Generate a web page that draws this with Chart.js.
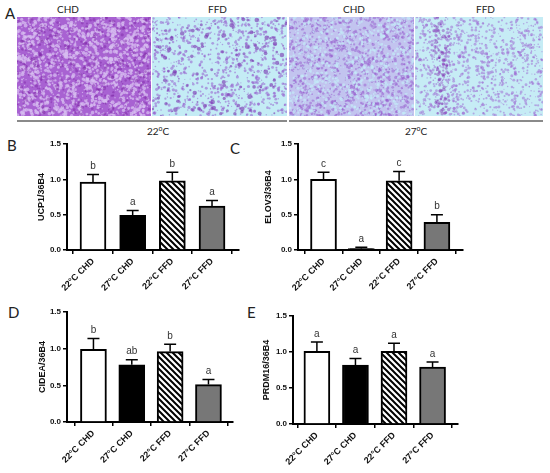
<!DOCTYPE html>
<html>
<head>
<meta charset="utf-8">
<script src="https://cdn.jsdelivr.net/npm/chart.js@4.4.0/dist/chart.umd.min.js"></script>
<style>
  body { margin: 0; background: #fff; }
  #fig { position: relative; width: 550px; height: 473px; overflow: hidden; font-family: Lato, "Open Sans", sans-serif; color: #222; }
  .abs { position: absolute; }
  .panel { font-size: 15px; }
  .lbl { font-size: 10px; }
  canvas { position: absolute; }
  .rule { position: absolute; height: 2px; background: #8a8a8a; }
</style>
</head>
<body>
<div id="fig">
  <div class="abs panel" style="left:5px;top:4px;">A</div>
  <div class="abs lbl" style="left:57px;top:3px;">CHD</div>
  <div class="abs lbl" style="left:208px;top:3px;">FFD</div>
  <div class="abs lbl" style="left:343px;top:3px;">CHD</div>
  <div class="abs lbl" style="left:476px;top:3px;">FFD</div>

  <canvas id="h1" width="134" height="99" style="left:17px;top:17px;"></canvas>
  <canvas id="h2" width="135" height="99" style="left:152px;top:17px;"></canvas>
  <canvas id="h3" width="125" height="99" style="left:289px;top:17px;"></canvas>
  <canvas id="h4" width="128" height="99" style="left:415px;top:17px;"></canvas>

  <div class="rule" style="left:17px;top:120px;width:270px;"></div>
  <div class="rule" style="left:289px;top:120px;width:254px;"></div>
  <div class="abs lbl" style="left:147px;top:124px;">22<sup style="font-size:7px;">o</sup>C</div>
  <div class="abs lbl" style="left:405px;top:124px;">27<sup style="font-size:7px;">o</sup>C</div>

  <div class="abs panel" style="left:7px;top:136px;">B</div>
  <div class="abs panel" style="left:230px;top:139px;">C</div>
  <div class="abs panel" style="left:8px;top:303px;">D</div>
  <div class="abs panel" style="left:247px;top:303px;">E</div>

  <canvas id="cB" width="250" height="180" style="left:0px;top:130px;"></canvas>
  <canvas id="cC" width="300" height="180" style="left:250px;top:130px;"></canvas>
  <canvas id="cD" width="250" height="173" style="left:0px;top:300px;"></canvas>
  <canvas id="cE" width="300" height="173" style="left:250px;top:300px;"></canvas>
</div>

<script>
// groups on the x axis
const groups = ['22°C CHD', '27°C CHD', '22°C FFD', '27°C FFD'];
const yTicks = [0, 0.5, 1.0, 1.5];

// B - UCP1
const ucp1 = [0.96, 0.49, 0.98, 0.62];
const ucp1Sem = [0.11, 0.07, 0.12, 0.08];
const ucp1Letters = ['b', 'a', 'b', 'a'];

// C - ELOVL3
const elovl3 = [1.00, 0.02, 0.98, 0.39];
const elovl3Sem = [0.10, 0.02, 0.13, 0.11];
const elovl3Letters = ['c', 'a', 'c', 'b'];

// D - CIDEA
const cidea = [0.99, 0.78, 0.96, 0.51];
const cideaSem = [0.15, 0.07, 0.10, 0.07];
const cideaLetters = ['b', 'ab', 'b', 'a'];

// E - PRDM16
const prdm16 = [1.01, 0.82, 1.01, 0.79];
const prdm16Sem = [0.13, 0.09, 0.11, 0.07];
const prdm16Letters = ['a', 'a', 'a', 'a'];

// --- micrograph stand-ins (just texture, not data) ---
function rng(seed) {
  return function() {
    seed |= 0; seed = seed + 0x6D2B79F5 | 0;
    let t = Math.imul(seed ^ seed >>> 15, 1 | seed);
    t = t + Math.imul(t ^ t >>> 7, 61 | t) ^ t;
    return ((t ^ t >>> 14) >>> 0) / 4294967296;
  };
}

function texture(id, base, spots, seed) {
  const c = document.getElementById(id);
  const ctx = c.getContext('2d');
  const r = rng(seed);
  ctx.fillStyle = base;
  ctx.fillRect(0, 0, c.width, c.height);
  spots.forEach(s => {
    ctx.fillStyle = s.color;
    for (let i = 0; i < s.n; i++) {
      const x = s.xr ? s.xr[0] + r() * (s.xr[1] - s.xr[0]) : r() * c.width;
      const y = r() * c.height;
      ctx.beginPath();
      ctx.arc(x, y, s.r0 + r() * s.r1, 0, Math.PI * 2);
      ctx.fill();
    }
  });
}

texture('h1', '#a862d2', [
  { color: 'rgba(215,190,240,0.75)', n: 1400, r0: 0.6, r1: 1.4 },
  { color: 'rgba(125,35,165,0.45)', n: 500, r0: 0.5, r1: 1.2 }
], 11);
texture('h2', '#c4ecf5', [
  { color: 'rgba(150,95,205,0.55)', n: 900, r0: 0.5, r1: 1.1 },
  { color: 'rgba(120,50,175,0.6)', n: 120, r0: 0.8, r1: 1.6 }
], 22);
texture('h3', '#c2c4ef', [
  { color: 'rgba(150,90,205,0.5)', n: 1100, r0: 0.5, r1: 1.2 },
  { color: 'rgba(195,235,248,0.7)', n: 700, r0: 0.5, r1: 1.2 }
], 33);
texture('h4', '#c6ecf5', [
  { color: 'rgba(155,100,210,0.5)', n: 1000, r0: 0.5, r1: 1.1 },
  { color: 'rgba(130,55,180,0.45)', n: 110, r0: 0.6, r1: 1.3, xr: [18, 34] }
], 44);

// --- hatched fill for 22C FFD bars ---
function hatch() {
  const p = document.createElement('canvas');
  p.width = 6; p.height = 6;
  const g = p.getContext('2d');
  g.fillStyle = '#fff';
  g.fillRect(0, 0, 6, 6);
  g.strokeStyle = '#000';
  g.lineWidth = 2;
  g.beginPath();
  g.moveTo(-1, -1); g.lineTo(7, 7);
  g.moveTo(-4, 2); g.lineTo(4, 10);
  g.moveTo(2, -4); g.lineTo(10, 4);
  g.stroke();
  return g.createPattern(p, 'repeat');
}
const hatchFill = hatch();

// error bars + significance letters
const errorBars = {
  id: 'errorBars',
  afterDatasetsDraw(chart) {
    const o = chart.options.plugins.errorBars;
    const ctx = chart.ctx;
    const yScale = chart.scales.y;
    const meta = chart.getDatasetMeta(0);
    ctx.save();
    ctx.strokeStyle = '#000';
    ctx.lineWidth = 1.5;
    meta.data.forEach((bar, i) => {
      const top = yScale.getPixelForValue(o.values[i] + o.sem[i]);
      ctx.beginPath();
      ctx.moveTo(bar.x, bar.y);
      ctx.lineTo(bar.x, top);
      ctx.moveTo(bar.x - 6, top);
      ctx.lineTo(bar.x + 6, top);
      ctx.stroke();
      ctx.fillStyle = '#333';
      ctx.font = '10px "Liberation Sans", Arial, sans-serif';
      ctx.textAlign = 'center';
      ctx.textBaseline = 'bottom';
      ctx.fillText(o.letters[i], bar.x, top - 3);
    });
    ctx.restore();
  }
};

function makePanel(id, title, values, sem, letters, box) {
  const ctx = document.getElementById(id).getContext('2d');
  return new Chart(ctx, {
    type: 'bar',
    data: {
      datasets: [{
        data: values.map((v, i) => ({ x: i, y: v })),
        backgroundColor: ['#ffffff', '#000000', hatchFill, '#777777'],
        borderColor: '#000',
        borderWidth: 2,
        barThickness: 26
      }]
    },
    plugins: [errorBars],
    options: {
      responsive: false,
      animation: false,
      layout: { padding: { left: box.padLeft, top: box.padTop, right: box.padRight, bottom: 0 } },
      plugins: {
        legend: { display: false },
        tooltip: { enabled: false },
        errorBars: { values: values, sem: sem, letters: letters }
      },
      scales: {
        x: {
          type: 'linear',
          offset: false,
          min: box.xMin,
          max: box.xMax,
          afterBuildTicks: axis => { axis.ticks = groups.map((g, i) => ({ value: i })); },
          afterFit: axis => { axis.height = box.xHeight; },
          grid: { drawOnChartArea: false, tickLength: 4, color: '#000', lineWidth: 1.5 },
          border: { color: '#000', width: 2 },
          ticks: {
            autoSkip: false,
            minRotation: 45,
            maxRotation: 45,
            padding: 2,
            color: '#111',
            font: { family: '"Liberation Sans", Arial, sans-serif', size: 9, weight: 'bold' },
            callback: v => groups[v] ?? ''
          }
        },
        y: {
          min: 0,
          max: 1.5,
          afterBuildTicks: axis => { axis.ticks = yTicks.map(v => ({ value: v })); },
          afterFit: axis => { axis.width = box.yWidth; },
          grid: { drawOnChartArea: false, tickLength: 4, color: '#000', lineWidth: 1.5 },
          border: { color: '#000', width: 2 },
          ticks: {
            padding: 2,
            color: '#111',
            font: { family: '"Liberation Sans", Arial, sans-serif', size: 8, weight: 'bold' },
            callback: v => v.toFixed(1)
          },
          title: {
            display: true,
            text: title,
            padding: 0,
            color: '#111',
            font: { family: '"Liberation Sans", Arial, sans-serif', size: 9, weight: 'bold' }
          }
        }
      }
    }
  });
}

makePanel('cB', 'UCP1/36B4', ucp1, ucp1Sem, ucp1Letters,
  { padLeft: 36, padTop: 14, padRight: 11, yWidth: 31, xHeight: 60, xMin: -0.655, xMax: 3.68 });
makePanel('cC', 'ELOV3/36B4', elovl3, elovl3Sem, elovl3Letters,
  { padLeft: 13, padTop: 14, padRight: 87, yWidth: 35, xHeight: 60, xMin: -0.675, xMax: 3.69 });
makePanel('cD', 'CIDEA/36B4', cidea, cideaSem, cideaLetters,
  { padLeft: 37, padTop: 12, padRight: 17, yWidth: 30, xHeight: 51, xMin: -0.69, xMax: 3.64 });
makePanel('cE', 'PRDM16/36B4', prdm16, prdm16Sem, prdm16Letters,
  { padLeft: 11, padTop: 16, padRight: 92, yWidth: 32, xHeight: 49, xMin: -0.62, xMax: 3.66 });
</script>
</body>
</html>
